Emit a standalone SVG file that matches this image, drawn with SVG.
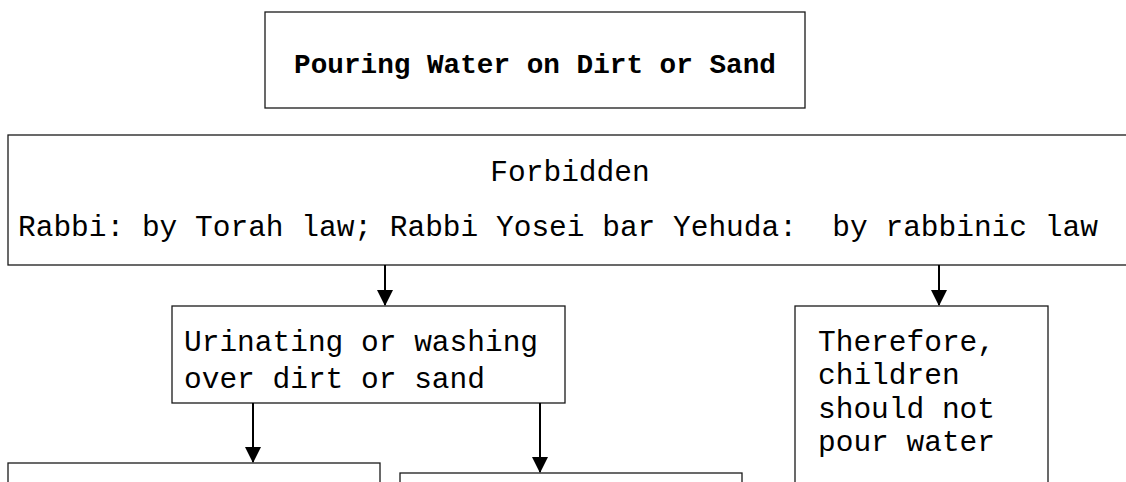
<svg xmlns="http://www.w3.org/2000/svg" width="1126" height="482" viewBox="0 0 1126 482">
<defs>
<style>
.box{fill:#fff;stroke:#1a1a1a;stroke-width:1.3}
.t{font-family:"Liberation Mono","Courier New",monospace;font-size:29.5px;fill:#000;white-space:pre}
.tb{font-family:"Liberation Mono","Courier New",monospace;font-size:27.7px;font-weight:bold;fill:#000}
.c{stroke:#000;stroke-width:2;fill:none}
</style>
<marker id="ah" markerWidth="8" markerHeight="8" refX="7.5" refY="4" orient="auto" markerUnits="strokeWidth">
<path d="M0,0 L8,4 L0,8 Z" fill="#000"/>
</marker>
</defs>
<rect width="1126" height="482" fill="#fff"/>
<g id="title">
<rect class="box" x="265" y="12" width="540" height="96"/>
<text class="tb" x="535" y="73" text-anchor="middle">Pouring Water on Dirt or Sand</text>
</g>
<g id="forbidden">
<rect class="box" x="8" y="135" width="1140" height="130"/>
<text class="t" x="570" y="181" text-anchor="middle">Forbidden</text>
<text class="t" x="18" y="236" xml:space="preserve">Rabbi: by Torah law; Rabbi Yosei bar Yehuda:  by rabbinic law</text>
</g>
<g id="urinating">
<rect class="box" x="172" y="306" width="393" height="97"/>
<text class="t" x="184" y="351">Urinating or washing</text>
<text class="t" x="184" y="388">over dirt or sand</text>
</g>
<g id="children">
<rect class="box" x="795" y="306" width="253" height="200"/>
<text class="t" x="818" y="351">Therefore,</text>
<text class="t" x="818" y="384">children</text>
<text class="t" x="818" y="418">should not</text>
<text class="t" x="818" y="451">pour water</text>
</g>
<g id="lowerLeft">
<rect class="box" x="8" y="463" width="372" height="40"/>
</g>
<g id="lowerMiddle">
<rect class="box" x="400" y="473" width="342" height="30"/>
</g>
<g id="connectors">
<line class="c" x1="385" y1="265" x2="385" y2="305" marker-end="url(#ah)"/>
<line class="c" x1="939" y1="265" x2="939" y2="305" marker-end="url(#ah)"/>
<line class="c" x1="253" y1="403" x2="253" y2="462" marker-end="url(#ah)"/>
<line class="c" x1="540" y1="403" x2="540" y2="472" marker-end="url(#ah)"/>
</g>
</svg>
